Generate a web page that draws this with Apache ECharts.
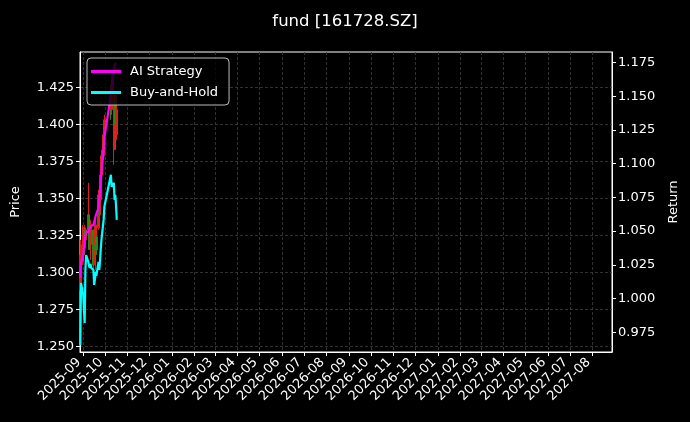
<!DOCTYPE html>
<html><head><meta charset="utf-8">
<script src="https://cdn.jsdelivr.net/npm/echarts@6/dist/echarts.min.js"></script>
<style>html,body{margin:0;padding:0;background:#000}#c{width:690px;height:422px}</style>
</head><body><div id="c"></div>
<script>
const dates = ['2025-08-28','2025-08-29','2025-09-01','2025-09-02','2025-09-03','2025-09-04','2025-09-05','2025-09-08','2025-09-09','2025-09-10','2025-09-11','2025-09-12','2025-09-15','2025-09-16','2025-09-17','2025-09-18','2025-09-19','2025-09-22','2025-09-23','2025-09-24','2025-09-25','2025-09-26','2025-09-29','2025-09-30','2025-10-09','2025-10-10','2025-10-13','2025-10-14','2025-10-15','2025-10-16','2025-10-17'];
const priceOpen  = [1.2883,1.3052,1.3120,1.3255,1.3167,1.3289,1.3222,1.3289,1.3391,1.3303,1.3188,1.3255,1.3289,1.3052,1.3303,1.3188,1.3242,1.3303,1.3492,1.3391,1.3492,1.3660,1.3790,1.3932,1.4202,1.4100,1.3830,1.3966,1.4169,1.4100,1.3932];
const priceClose = [1.3120,1.3188,1.3289,1.3120,1.3303,1.3222,1.3289,1.3391,1.3222,1.3188,1.3289,1.3323,1.3052,1.3222,1.3188,1.3323,1.3154,1.3526,1.3391,1.3492,1.3660,1.3790,1.3932,1.4033,1.4100,1.4270,1.4236,1.4169,1.4000,1.3898,1.4100];
const priceLow   = [1.2816,1.2951,1.3052,1.3073,1.3154,1.3188,1.3188,1.3242,1.3154,1.3154,1.3086,1.3188,1.3019,1.2985,1.3154,1.3019,1.3120,1.3289,1.3323,1.3391,1.3458,1.3560,1.3763,1.3932,1.4033,1.4067,1.3729,1.3898,1.3932,1.3830,1.3898];
const priceHigh  = [1.3188,1.3222,1.3323,1.3255,1.3323,1.3289,1.3303,1.3607,1.3391,1.3323,1.3323,1.3357,1.3289,1.3255,1.3323,1.3357,1.3255,1.3560,1.3492,1.3526,1.3695,1.3830,1.3966,1.4067,1.4236,1.4338,1.4304,1.4202,1.4202,1.4169,1.4202];
const aiStrategy = [1.0153,1.0272,1.0323,1.0375,1.0435,1.0464,1.0494,1.0494,1.0516,1.0509,1.0524,1.0539,1.0546,1.0568,1.0583,1.0613,1.0628,1.0672,1.0731,1.0791,1.0858,1.0939,1.1102,1.1191,1.1510,1.1562,1.1681,1.1725,1.1740,1.1733,1.1740];
const buyAndHold = [0.9656,1.0116,1.0027,0.9916,0.9819,1.0212,1.0323,1.0272,1.0242,1.0227,1.0257,1.0227,1.0212,1.0101,1.0138,1.0197,1.0168,1.0272,1.0212,1.0272,1.0361,1.0435,1.0583,1.0680,1.0917,1.0828,1.0857,1.0731,1.0768,1.0694,1.0583];
const monthTicks = ['2025-09-01','2025-10-01','2025-11-01','2025-12-01','2026-01-01','2026-02-01','2026-03-01','2026-04-01','2026-05-01','2026-06-01','2026-07-01','2026-08-01','2026-09-01','2026-10-01','2026-11-01','2026-12-01','2027-01-01','2027-02-01','2027-03-01','2027-04-01','2027-05-01','2027-06-01','2027-07-01','2027-08-01'];
const priceTicks = [1.250,1.275,1.300,1.325,1.350,1.375,1.400,1.425];
const returnTicks = [0.975,1.000,1.025,1.050,1.075,1.100,1.125,1.150,1.175];

const FONT = 'DejaVu Sans';
const ts = (s, h) => { const p = s.split('-').map(Number); return Date.UTC(p[0], p[1] - 1, p[2], h || 0); };
const pad2 = n => (n < 10 ? '0' : '') + n;
const fmtMonth = v => { const d = new Date(v); return d.getUTCFullYear() + '-' + pad2(d.getUTCMonth() + 1); };
const monthTickVals = monthTicks.map(s => ts(s));
const candleData = dates.map((d, i) => [ts(d), priceOpen[i], priceClose[i], priceLow[i], priceHigh[i]]);
const aiData = dates.map((d, i) => [ts(d), aiStrategy[i]]);
const bhData = dates.map((d, i) => [ts(d), buyAndHold[i]]);

const chart = echarts.init(document.getElementById('c'), null, {renderer: 'canvas'});
chart.setOption({
  backgroundColor: '#000',
  animation: false,
  textStyle: {fontFamily: FONT},
  title: {
    text: 'fund [161728.SZ]', left: 'center', top: 8,
    textStyle: {color: '#fff', fontSize: 16.5, fontWeight: 'normal', fontFamily: FONT}
  },
  legend: {
    data: ['AI Strategy', 'Buy-and-Hold'],
    orient: 'vertical', left: 87, top: 58,
    padding: [7, 11, 6, 4], itemGap: 8,
    itemWidth: 30, itemHeight: 3, icon: 'rect',
    backgroundColor: 'rgba(0,0,0,0.8)', borderColor: '#bbbbbb', borderWidth: 1, borderRadius: 4,
    textStyle: {color: '#fff', fontSize: 13, fontFamily: FONT, padding: [0, 0, 0, 4]}
  },
  grid: {left: 80, right: 78, top: 52, bottom: 70, show: true, borderColor: '#fff', borderWidth: 1, backgroundColor: 'transparent'},
  xAxis: {
    type: 'value', min: ts('2025-08-27', 14), max: ts('2027-08-27', 14),
    axisLine: {show: true, onZero: false, lineStyle: {color: '#fff', width: 1}},
    axisTick: {show: true, length: 4, lineStyle: {color: '#fff'}, customValues: monthTickVals},
    axisLabel: {
      customValues: monthTickVals, rotate: 45, color: '#fff', fontSize: 13, fontFamily: FONT, margin: 4,
      padding: [0, 6, 0, 0], formatter: fmtMonth
    },
    splitLine: {show: true, lineStyle: {color: '#3d3d3d', type: [3, 2], width: 0.8}}
  },
  yAxis: [{
    type: 'value', position: 'left', min: 1.2464, max: 1.4491,
    name: 'Price', nameLocation: 'middle', nameGap: 58, nameRotate: 90,
    nameTextStyle: {color: '#fff', fontSize: 13, fontFamily: FONT},
    axisLine: {show: true, onZero: false, lineStyle: {color: '#fff'}},
    axisTick: {show: true, length: 4, lineStyle: {color: '#fff'}, customValues: priceTicks},
    axisLabel: {customValues: priceTicks, color: '#fff', fontSize: 13, fontFamily: FONT, margin: 6, formatter: v => v.toFixed(3)},
    splitLine: {show: true, lineStyle: {color: '#3d3d3d', type: [3, 2], width: 0.8}}
  }, {
    type: 'value', position: 'right', min: 0.9604, max: 1.1827,
    name: 'Return', nameLocation: 'middle', nameGap: 55, nameRotate: 90,
    nameTextStyle: {color: '#fff', fontSize: 13, fontFamily: FONT},
    axisLine: {show: true, onZero: false, lineStyle: {color: '#fff'}},
    axisTick: {show: true, length: 4, lineStyle: {color: '#fff'}, customValues: returnTicks},
    axisLabel: {customValues: returnTicks, color: '#fff', fontSize: 13, fontFamily: FONT, margin: 6, formatter: v => v.toFixed(3)},
    splitLine: {show: false}
  }],
  series: [{
    name: 'Price', type: 'candlestick', yAxisIndex: 0, barWidth: 2, barMinWidth: 2, barMaxWidth: 2,
    encode: {x: 0, y: [1, 2, 3, 4]},
    itemStyle: {color: '#d82418', color0: '#2e8515', borderColor: '#d82418', borderColor0: '#2e8515', borderWidth: 1},
    data: candleData, z: 2
  }, {
    name: 'AI Strategy', type: 'line', yAxisIndex: 1, showSymbol: false, symbol: 'none',
    lineStyle: {color: '#ff00ff', width: 2.2}, itemStyle: {color: '#ff00ff'},
    data: aiData, z: 3
  }, {
    name: 'Buy-and-Hold', type: 'line', yAxisIndex: 1, showSymbol: false, symbol: 'none',
    lineStyle: {color: '#00ffff', width: 2.2}, itemStyle: {color: '#00ffff'},
    data: bhData, z: 3
  }]
});
</script>
</body></html>
